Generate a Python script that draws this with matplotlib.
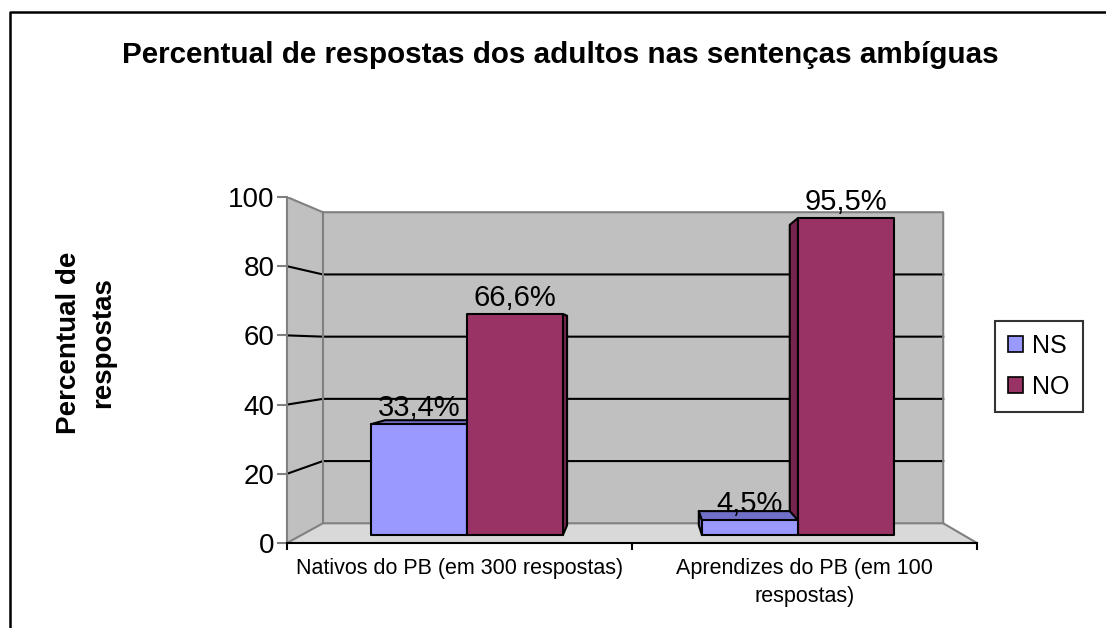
import matplotlib
matplotlib.use('Agg')
import matplotlib.pyplot as plt
from matplotlib.patches import Polygon, Patch
from matplotlib.lines import Line2D

plt.rcParams['font.family'] = ['Liberation Sans', 'DejaVu Sans']

# Dados
titulo = 'Percentual de respostas dos adultos nas sentenças ambíguas'
rotulo_y = 'Percentual de\nrespostas'
categorias = ['Nativos do PB (em 300 respostas)', 'Aprendizes do PB (em 100\nrespostas)']
series = ['NS', 'NO']
valores_ns = [33.4, 4.5]
valores_no = [66.6, 95.5]
rotulos_ns = ['33,4%', '4,5%']
rotulos_no = ['66,6%', '95,5%']
ticks_y = [0, 20, 40, 60, 80, 100]

cores = ['#9999FF', '#993366']
cores_lado = ['#7b7bd6', '#74254d']
cores_topo = ['#7070c8', '#74254d']

# Perspectiva (coords do plano frontal)
FUGA_X, FUGA_Y = 1.03, 56.4
K = 0.101
D0, D1 = 0.4, 0.9       # profundidade das barras
LARG = 0.29              # largura de cada barra


def proj(x, y, d):
    s = 1 - K * d
    return (FUGA_X + (x - FUGA_X) * s, FUGA_Y + (y - FUGA_Y) * s)


fig = plt.figure(figsize=(11.06, 6.28), dpi=100)
ax = fig.add_axes([287 / 1106, 85 / 628, 690 / 1106, 346 / 628])
ax.patch.set_visible(False)
ax.set_xlim(0, 2)
ax.set_ylim(0, 100)
n = len(categorias)

# Paredes e piso
parede = '#C0C0C0'
borda = '#808080'
ax.add_patch(Polygon([proj(0, 0, 1), proj(n, 0, 1), proj(n, 100, 1), proj(0, 100, 1)],
                     closed=True, facecolor=parede, edgecolor='none', zorder=0))
ax.add_patch(Polygon([proj(0, 0, 0), proj(0, 0, 1), proj(0, 100, 1), proj(0, 100, 0)],
                     closed=True, facecolor=parede, edgecolor='none', zorder=0))
ax.add_patch(Polygon([proj(0, 0, 0), proj(n, 0, 0), proj(n, 0, 1), proj(0, 0, 1)],
                     closed=True, facecolor='#D9D9D9', edgecolor='none', zorder=0))

# Linhas de grade
for v in ticks_y[1:-1]:
    pts = [proj(0, v, 0), proj(0, v, 1), proj(n, v, 1)]
    ax.plot([p[0] for p in pts], [p[1] for p in pts], color='black', lw=1.5, zorder=1)

# Bordas cinza
bordas = [
    [proj(0, 100, 0), proj(0, 100, 1), proj(n, 100, 1), proj(n, 0, 1), proj(n, 0, 0)],
    [proj(0, 0, 1), proj(0, 100, 1)],
    [proj(0, 0, 0), proj(0, 0, 1), proj(n, 0, 1)],
]
for pts in bordas:
    ax.plot([p[0] for p in pts], [p[1] for p in pts], color=borda, lw=1.5, zorder=1)

# Barras
valores = [valores_ns, valores_no]
rotulos = [rotulos_ns, rotulos_no]
for i in range(n):
    centro = i + 0.5
    for j in range(len(series)):
        v = valores[j][i]
        x0 = centro - LARG + j * LARG
        x1 = x0 + LARG
        xc = (x0 + x1) / 2
        z = 5 - abs(xc - FUGA_X)
        kw = dict(closed=True, edgecolor='black', lw=1.5, joinstyle='round')
        if x1 < FUGA_X:
            lado = [proj(x1, 0, D0), proj(x1, v, D0), proj(x1, v, D1), proj(x1, 0, D1)]
            ax.add_patch(Polygon(lado, facecolor=cores_lado[j], zorder=z, **kw))
        elif x0 > FUGA_X:
            lado = [proj(x0, 0, D0), proj(x0, v, D0), proj(x0, v, D1), proj(x0, 0, D1)]
            ax.add_patch(Polygon(lado, facecolor=cores_lado[j], zorder=z, **kw))
        if v < FUGA_Y:
            topo = [proj(x0, v, D0), proj(x1, v, D0), proj(x1, v, D1), proj(x0, v, D1)]
            ax.add_patch(Polygon(topo, facecolor=cores_topo[j], zorder=z, **kw))
        frente = [proj(x0, 0, D0), proj(x1, 0, D0), proj(x1, v, D0), proj(x0, v, D0)]
        ax.add_patch(Polygon(frente, facecolor=cores[j], zorder=z + 0.01, **kw))
        ax.annotate(rotulos[j][i], proj(xc, v, D0), xytext=(0, 6), textcoords='offset points',
                    ha='center', va='baseline', fontsize=21, zorder=10)

# Eixos
for s in ['top', 'right']:
    ax.spines[s].set_visible(False)
ax.spines['left'].set_color(borda)
ax.spines['left'].set_linewidth(1.5)
ax.spines['bottom'].set_color('black')
ax.spines['bottom'].set_linewidth(1.5)
ax.spines['left'].set_zorder(2)
ax.spines['bottom'].set_zorder(2)

ax.set_yticks(ticks_y)
ax.tick_params(axis='y', length=7, width=1.5, color=borda, labelsize=20, pad=2)
ax.set_xticks(range(n + 1))
ax.set_xticklabels([])
ax.tick_params(axis='x', which='major', length=5, width=1.5, color='black')
ax.set_xticks([i + 0.5 for i in range(n)], minor=True)
ax.set_xticklabels(categorias, minor=True, fontsize=15.5, linespacing=1.4)
ax.tick_params(axis='x', which='minor', length=0, pad=11)

# Título e rótulo do eixo
fig.text(560 / 1106, 1 - 55 / 628, titulo, ha='center', va='center',
         fontsize=21.3, fontweight='bold')
fig.text(86 / 1106, 1 - 343 / 628, rotulo_y, ha='center', va='center', rotation=90,
         fontsize=20, fontweight='bold', multialignment='center', linespacing=1.4)

# Legenda
handles = [Patch(facecolor=c, edgecolor='black', lw=1.2) for c in cores]
fig.legend(handles, series, loc='upper left', bbox_to_anchor=(995 / 1106, 1 - 321 / 628),
           fontsize=18, frameon=True, fancybox=False, edgecolor='black',
           handlelength=0.6, handleheight=0.6, handletextpad=0.4, labelspacing=0.7,
           borderpad=0.5, borderaxespad=0)
fig.legends[0].get_frame().set_linewidth(1.5)

# Moldura
fig.add_artist(Line2D([9.5 / 1106, 9.5 / 1106, 1], [0, 1 - 12 / 628, 1 - 12 / 628],
                      transform=fig.transFigure, color='black', lw=1.8))

fig.savefig('out.png', dpi=100)
